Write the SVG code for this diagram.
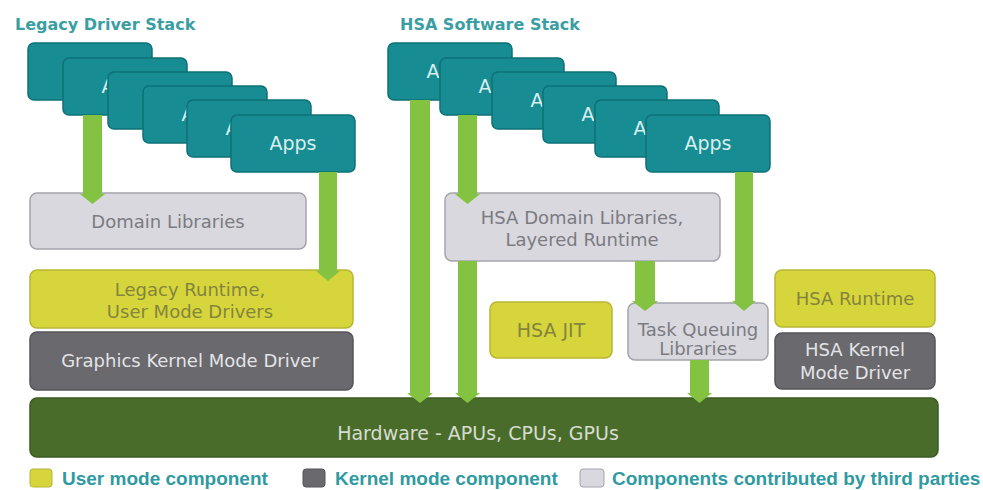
<svg xmlns="http://www.w3.org/2000/svg" width="983" height="490" viewBox="0 0 983 490">
<defs>
<style>
text{font-family:"DejaVu Sans","Liberation Sans",Arial,sans-serif;text-anchor:middle;font-size:18px}
.app rect{fill:#178c92;stroke:#0f7177;stroke-width:1.5}
.app text{fill:#d8efee;font-size:19px}
.user rect{fill:#d6d63c;stroke:#b9b534;stroke-width:1.5}
.user text{fill:#85843c}
.kern rect{fill:#69696e;stroke:#55555a;stroke-width:1.5}
.kern text{fill:#e4e4e6}
.third rect{fill:#d8d8de;stroke:#a4a4ac;stroke-width:1.5}
.third text{fill:#7b7b82}
.hw rect{fill:#4a6c2a;stroke:#3c5a22;stroke-width:1.5}
.hw text{fill:#d6dcd0;font-size:19px}
.title{fill:#3a9ea3;font-size:16px;font-weight:bold;text-anchor:start}
.leg{font-family:"Liberation Sans",Arial,sans-serif;fill:#2f9aa1;font-size:19px;font-weight:bold;text-anchor:start}
#connectors path{fill:#83c341}
</style>
</defs>
<rect width="983" height="490" fill="#ffffff"/>
<text class="title" x="15" y="30">Legacy Driver Stack</text>
<text class="title" x="400" y="30">HSA Software Stack</text>

<g id="legacy-apps">
<g id="lapp1" class="app"><rect x="28" y="43" width="124" height="57" rx="6"/><text x="90" y="78">Apps</text></g>
<g id="lapp2" class="app"><rect x="63" y="58" width="124" height="57" rx="6"/><text x="125" y="93">Apps</text></g>
<g id="lapp3" class="app"><rect x="108" y="72" width="124" height="57" rx="6"/><text x="170" y="107">Apps</text></g>
<g id="lapp4" class="app"><rect x="143" y="86" width="124" height="57" rx="6"/><text x="205" y="121">Apps</text></g>
<g id="lapp5" class="app"><rect x="187" y="100" width="124" height="57" rx="6"/><text x="249" y="135">Apps</text></g>
<g id="lapp6" class="app"><rect x="231" y="115" width="124" height="57" rx="6"/><text x="293" y="150">Apps</text></g>
</g>

<g id="hsa-apps">
<g id="happ1" class="app"><rect x="388" y="43" width="124" height="57" rx="6"/><text x="450" y="78">Apps</text></g>
<g id="happ2" class="app"><rect x="440" y="58" width="124" height="57" rx="6"/><text x="502" y="93">Apps</text></g>
<g id="happ3" class="app"><rect x="492" y="72" width="124" height="57" rx="6"/><text x="554" y="107">Apps</text></g>
<g id="happ4" class="app"><rect x="543" y="86" width="124" height="57" rx="6"/><text x="605" y="121">Apps</text></g>
<g id="happ5" class="app"><rect x="595" y="100" width="124" height="57" rx="6"/><text x="657" y="135">Apps</text></g>
<g id="happ6" class="app"><rect x="646" y="115" width="124" height="57" rx="6"/><text x="708" y="150">Apps</text></g>
</g>

<g id="domain-libraries" class="third"><rect x="30" y="193" width="276" height="56" rx="7"/><text x="168" y="228">Domain Libraries</text></g>
<g id="legacy-runtime" class="user"><rect x="30" y="270" width="323" height="58" rx="7"/><text x="190" y="296">Legacy Runtime,</text><text x="190" y="318">User Mode Drivers</text></g>
<g id="graphics-kmd" class="kern"><rect x="30" y="332" width="323" height="58" rx="7"/><text x="190" y="367">Graphics Kernel Mode Driver</text></g>

<g id="hsa-domain-libraries" class="third"><rect x="445" y="193" width="275" height="68" rx="7"/><text x="582" y="224">HSA Domain Libraries,</text><text x="582" y="246">Layered Runtime</text></g>
<g id="hsa-jit" class="user"><rect x="490" y="302" width="122" height="56" rx="7"/><text x="551" y="337" style="font-size:19px">HSA JIT</text></g>
<g id="task-queuing" class="third"><rect x="628" y="303" width="140" height="57" rx="7"/><text x="698" y="336">Task Queuing</text><text x="698" y="355">Libraries</text></g>
<g id="hsa-runtime" class="user"><rect x="775" y="270" width="160" height="57" rx="7"/><text x="855" y="305">HSA Runtime</text></g>
<g id="hsa-kmd" class="kern"><rect x="775" y="333" width="160" height="56" rx="7"/><text x="855" y="356">HSA Kernel</text><text x="855" y="379">Mode Driver</text></g>

<g id="hardware" class="hw"><rect x="30" y="398" width="908" height="59" rx="7"/><text x="478" y="440">Hardware - APUs, CPUs, GPUs</text></g>

<g id="connectors">
<path d="M83 115H102V194H105L92.5 204L80 194H83Z"/>
<path d="M319 172H337V271H340L328 281L316 271H319Z"/>
<path d="M410 100H430V393H433L420 403L407 393H410Z"/>
<path d="M458 115H477V194H480L467.5 204L455 194H458Z"/>
<path d="M458 261H477V393H480L467.5 403L455 393H458Z"/>
<path d="M635 261H655V301H658L645 311L632 301H635Z"/>
<path d="M735 172H753V301H756L744 311L732 301H735Z"/>
<path d="M690 360H709V393H712L699.5 403L687 393H690Z"/>
</g>

<g id="legend">
<rect x="30" y="469" width="22" height="18" rx="3" fill="#d6d63c" stroke="#b9b534"/>
<text class="leg" x="62" y="485">User mode component</text>
<rect x="303" y="469" width="22" height="18" rx="3" fill="#69696e" stroke="#55555a"/>
<text class="leg" x="335" y="485">Kernel mode component</text>
<rect x="580" y="469" width="24" height="18" rx="3" fill="#d8d8de" stroke="#a4a4ac"/>
<text class="leg" x="612" y="485">Components contributed by third parties</text>
</g>
</svg>
